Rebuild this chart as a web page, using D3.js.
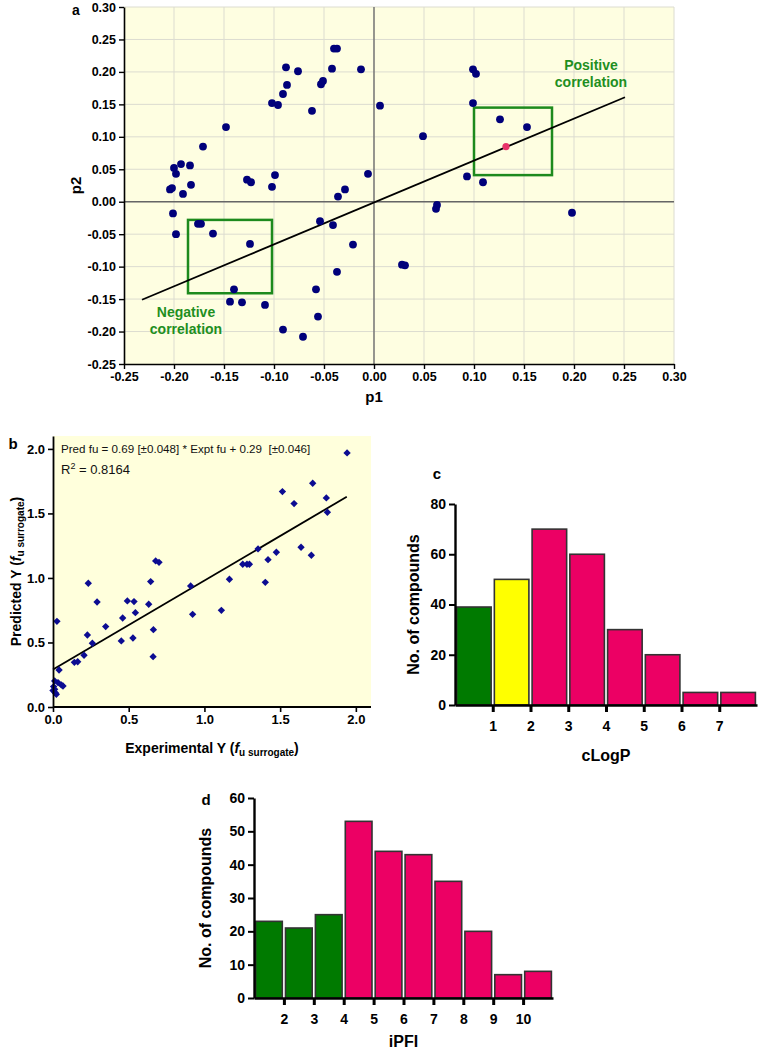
<!DOCTYPE html>
<html><head><meta charset="utf-8">
<script src="https://cdn.jsdelivr.net/npm/d3@7"></script>
<style>
body{margin:0;background:#fff;}
svg{display:block;}
text{font-family:"Liberation Sans",Arial,Helvetica,sans-serif;}
</style>
</head><body>
<svg id="fig" width="760" height="1050"></svg>
<script>
// ---------------- DATA ----------------
// Panel a: PCA scores
const pcaP1 = [-0.040,-0.037,-0.088,-0.076,-0.042,-0.013,-0.087,-0.091,-0.053,-0.051,
  -0.102,-0.096,-0.062,0.006,-0.148,-0.171,-0.193,-0.200,-0.198,-0.184,
  -0.204,-0.202,-0.183,-0.191,-0.127,-0.123,-0.102,-0.099,-0.006,-0.036,
  -0.029,-0.201,-0.198,-0.176,-0.173,-0.161,-0.124,-0.140,-0.144,-0.132,
  -0.109,-0.091,-0.071,-0.058,-0.056,-0.054,-0.041,-0.021,-0.037,0.099,
  0.102,0.099,0.049,0.126,0.153,0.093,0.109,0.063,0.062,0.198,0.028,0.031];
const pcaP2 = [0.236,0.236,0.207,0.201,0.205,0.204,0.180,0.166,0.181,0.186,
  0.152,0.149,0.140,0.148,0.115,0.085,0.058,0.052,0.043,0.056,
  0.019,0.021,0.026,0.012,0.034,0.030,0.023,0.041,0.043,0.008,
  0.019,-0.018,-0.050,-0.034,-0.034,-0.049,-0.065,-0.135,-0.154,-0.155,
  -0.159,-0.197,-0.208,-0.135,-0.177,-0.030,-0.036,-0.066,-0.108,0.204,
  0.197,0.152,0.101,0.127,0.115,0.039,0.030,-0.005,-0.011,-0.017,-0.097,-0.098];
const highlightP1 = [0.132];
const highlightP2 = [0.085];
const pcaFitP1 = [-0.232, 0.251];
const pcaFitP2 = [-0.151, 0.161];
const pcaTicks = [-0.25,-0.20,-0.15,-0.10,-0.05,0.00,0.05,0.10,0.15,0.20,0.25,0.30];
const boxNames = ["Negative", "Positive"];
const boxP1 = [[-0.186,-0.102],[0.100,0.178]];
const boxP2 = [[-0.141,-0.028],[0.041,0.145]];

// Panel b: experimental vs predicted
const exptY = [1.942,1.515,1.715,1.592,1.805,1.812,1.354,1.638,1.706,1.475,
  1.420,1.402,1.253,1.281,1.297,1.165,0.909,0.922,1.112,0.678,
  0.700,0.645,0.632,0.233,0.291,0.491,0.535,0.544,0.460,0.026,
  0.348,0.227,0.260,0.451,0.528,0.663,0.661,0.205,0.141,0.163,
  0.040,0.011,0.033,0.055,0.066,0.004,0.011,0.000,0.022,0.015];
const predY = [1.969,1.669,1.734,1.576,1.620,1.509,1.225,1.238,1.176,1.199,
  1.142,0.966,1.106,1.106,1.106,0.990,0.938,0.718,0.749,1.132,
  1.121,0.972,0.796,0.959,0.814,0.822,0.817,0.731,0.690,0.664,
  0.623,0.558,0.494,0.512,0.535,0.599,0.390,0.401,0.346,0.351,
  0.287,0.202,0.189,0.171,0.163,0.158,0.137,0.127,0.098,0.111];
const fitExpt = [0.0, 1.94];
const fitPred = [0.29, 1.629];
const bTicks = [0.0,0.5,1.0,1.5,2.0];

// Panel c: cLogP histogram
const cLogPBinStart = [0,1,2,3,4,5,6,7];
const cLogPCounts = [39,50,70,60,30,20,5,5];
const cLogPClass = ["g","y","p","p","p","p","p","p"];
const cLogPTicks = [1,2,3,4,5,6,7];
const cCountTicks = [0,20,40,60,80];

// Panel d: iPFI histogram
const iPFIBinStart = [1,2,3,4,5,6,7,8,9,10];
const iPFICounts = [23,21,25,53,44,43,35,20,7,8];
const iPFIClass = ["g","g","g","p","p","p","p","p","p","p"];
const iPFITicks = [2,3,4,5,6,7,8,9,10];
const dCountTicks = [0,10,20,30,40,50,60];

const classColor = {g:"#007a00", y:"#ffff00", p:"#ec0064"};

// ---------------- DRAW ----------------
const svg = d3.select("#fig");
const BOLD = "bold";
const fmt2 = d => d.toFixed(2);
const fmt1 = d => d.toFixed(1);

function styleAxis(g, sw, tickW, fs) {
  g.selectAll("path.domain").attr("stroke","#000").attr("stroke-width",sw);
  g.selectAll(".tick line").attr("stroke","#000").attr("stroke-width",tickW);
  g.selectAll(".tick text").attr("fill","#000").attr("font-size",fs).attr("font-weight",BOLD)
    .attr("font-family","'Liberation Sans',Arial,sans-serif");
}

// ===== Panel a =====
(function(){
  const x = d3.scaleLinear([-0.25,0.30],[124,674]);
  const y = d3.scaleLinear([-0.25,0.30],[364,7]);
  const g = svg.append("g");
  g.append("rect").attr("x",x(-0.25)).attr("y",y(0.30))
    .attr("width",x(0.30)-x(-0.25)).attr("height",y(-0.25)-y(0.30)).attr("fill","#fefee1");
  // grid
  g.selectAll("line.gx").data(pcaTicks.slice(1)).join("line")
    .attr("x1",d=>x(d)).attr("x2",d=>x(d)).attr("y1",y(0.30)).attr("y2",y(-0.25))
    .attr("stroke","#dcdcd0").attr("stroke-width",1);
  g.selectAll("line.gy").data(pcaTicks.slice(1)).join("line")
    .attr("y1",d=>y(d)).attr("y2",d=>y(d)).attr("x1",x(-0.25)).attr("x2",x(0.30))
    .attr("stroke","#dcdcd0").attr("stroke-width",1);
  // zero lines
  g.append("line").attr("x1",x(0)).attr("x2",x(0)).attr("y1",y(0.30)).attr("y2",y(-0.25))
    .attr("stroke","#666").attr("stroke-width",1.3);
  g.append("line").attr("y1",y(0)).attr("y2",y(0)).attr("x1",x(-0.25)).attr("x2",x(0.30))
    .attr("stroke","#666").attr("stroke-width",1.3);
  // boxes
  boxNames.forEach((n,i)=>{
    g.append("rect").attr("x",x(boxP1[i][0])).attr("y",y(boxP2[i][1]))
      .attr("width",x(boxP1[i][1])-x(boxP1[i][0])).attr("height",y(boxP2[i][0])-y(boxP2[i][1]))
      .attr("fill","none").attr("stroke","#1d8a1d").attr("stroke-width",2.5);
  });
  // fit line
  g.append("line").attr("x1",x(pcaFitP1[0])).attr("y1",y(pcaFitP2[0]))
    .attr("x2",x(pcaFitP1[1])).attr("y2",y(pcaFitP2[1])).attr("stroke","#000").attr("stroke-width",1.8);
  // points
  g.selectAll("circle.pt").data(pcaP1.map((v,i)=>[v,pcaP2[i]])).join("circle")
    .attr("cx",d=>x(d[0])).attr("cy",d=>y(d[1])).attr("r",3.9).attr("fill","#00007a");
  g.selectAll("circle.hl").data(highlightP1.map((v,i)=>[v,highlightP2[i]])).join("circle")
    .attr("cx",d=>x(d[0])).attr("cy",d=>y(d[1])).attr("r",3.6).attr("fill","#e8336a");
  // labels in plot
  const lab = [["Negative","correlation",-0.188,-0.178],["Positive","correlation",0.217,0.203]];
  lab.forEach(l=>{
    const t = g.append("text").attr("x",x(l[2])).attr("y",y(l[3])).attr("text-anchor","middle")
      .attr("fill","#1f8f1f").attr("font-size",14).attr("font-weight",BOLD);
    t.append("tspan").attr("x",x(l[2])).attr("dy",0).text(l[0]);
    t.append("tspan").attr("x",x(l[2])).attr("dy",17).text(l[1]);
  });
  // axes
  const ax = g.append("g").attr("transform",`translate(0,${y(-0.25)})`)
    .call(d3.axisBottom(x).tickValues(pcaTicks).tickFormat(fmt2).tickSize(5).tickSizeOuter(0).tickPadding(3));
  styleAxis(ax,1.6,1.4,12.5);
  const ay = g.append("g").attr("transform",`translate(${x(-0.25)},0)`)
    .call(d3.axisLeft(y).tickValues(pcaTicks).tickFormat(fmt2).tickSize(5).tickSizeOuter(0).tickPadding(3));
  styleAxis(ay,1.6,1.4,12.5);
  g.append("text").attr("x",x(0)).attr("y",402).attr("text-anchor","middle")
    .attr("font-size",15).attr("font-weight",BOLD).text("p1");
  g.append("text").attr("transform",`translate(81,${(y(0.30)+y(-0.25))/2}) rotate(-90)`)
    .attr("text-anchor","middle").attr("font-size",15).attr("font-weight",BOLD).text("p2");
  g.append("text").attr("x",76).attr("y",15).attr("text-anchor","middle")
    .attr("font-size",14).attr("font-weight",BOLD).text("a");
})();

// ===== Panel b =====
(function(){
  const x = d3.scaleLinear([0,2.1],[53,371]);
  const y = d3.scaleLinear([0,2.1],[707,436]);
  const g = svg.append("g");
  g.append("rect").attr("x",x(0)).attr("y",y(2.1)).attr("width",x(2.1)-x(0)).attr("height",y(0)-y(2.1))
    .attr("fill","#ffffdc");
  g.append("line").attr("x1",x(fitExpt[0])).attr("y1",y(fitPred[0])).attr("x2",x(fitExpt[1])).attr("y2",y(fitPred[1]))
    .attr("stroke","#000").attr("stroke-width",1.8);
  g.selectAll("path.pt").data(exptY.map((v,i)=>[v,predY[i]])).join("path")
    .attr("d",d3.symbol(d3.symbolSquare,27))
    .attr("transform",d=>`translate(${x(d[0])},${y(d[1])}) rotate(45)`)
    .attr("fill","#0c0c92");
  const ax = g.append("g").attr("transform",`translate(0,${y(0)})`)
    .call(d3.axisBottom(x).tickValues(bTicks).tickFormat(fmt1).tickSize(5).tickSizeOuter(0).tickPadding(3));
  styleAxis(ax,1.8,1.6,13);
  ax.select("path.domain").attr("d",`M${x(0)},0H${x(2.1)}`);
  const ay = g.append("g").attr("transform",`translate(${x(0)},0)`)
    .call(d3.axisLeft(y).tickValues(bTicks).tickFormat(fmt1).tickSize(5).tickSizeOuter(0).tickPadding(3));
  styleAxis(ay,1.8,1.6,13);
  g.append("text").attr("x",61).attr("y",453).attr("font-size",11.6).attr("fill","#111")
    .text("Pred fu = 0.69 [\u00b10.048] * Expt fu + 0.29 \u00a0[\u00b10.046]");
  const r2 = g.append("text").attr("x",61).attr("y",474).attr("font-size",13).attr("fill","#111");
  r2.append("tspan").text("R");
  r2.append("tspan").attr("font-size",9).attr("dy",-5).text("2");
  r2.append("tspan").attr("dy",5).text(" = 0.8164");
  // axis titles
  const xt = g.append("text").attr("x",(x(0)+x(2.1))/2).attr("y",753).attr("text-anchor","middle")
    .attr("font-size",14).attr("font-weight",BOLD);
  xt.append("tspan").text("Experimental Y (");
  xt.append("tspan").attr("font-style","italic").text("f");
  xt.append("tspan").attr("font-size",10).attr("dy",3).text("u surrogate");
  xt.append("tspan").attr("dy",-3).text(")");
  const yt = g.append("text").attr("transform",`translate(21,${(y(0)+y(2.1))/2}) rotate(-90)`)
    .attr("text-anchor","middle").attr("font-size",14).attr("font-weight",BOLD);
  yt.append("tspan").text("Predicted Y (");
  yt.append("tspan").attr("font-style","italic").text("f");
  yt.append("tspan").attr("font-size",10).attr("dy",3).text("u surrogate");
  yt.append("tspan").attr("dy",-3).text(")");
  g.append("text").attr("x",13).attr("y",449).attr("text-anchor","middle")
    .attr("font-size",15).attr("font-weight",BOLD).text("b");
})();

// ===== Histogram helper =====
function histogram(opt){
  const x = d3.scaleLinear(opt.xDom, opt.xRange);
  const y = d3.scaleLinear(opt.yDom, opt.yRange);
  const g = svg.append("g");
  const step = x(opt.xDom[0]+1)-x(opt.xDom[0]);
  g.selectAll("rect.bar").data(opt.starts.map((s,i)=>({s, c:opt.counts[i], k:opt.cls[i]}))).join("rect")
    .attr("x",d=>x(d.s)+1.6).attr("width",step-3.2)
    .attr("y",d=>y(d.c)).attr("height",d=>y(0)-y(d.c))
    .attr("fill",d=>classColor[d.k]).attr("stroke","#333").attr("stroke-width",1.6);
  const ax = g.append("g").attr("transform",`translate(0,${y(0)})`)
    .call(d3.axisBottom(x).tickValues(opt.xTicks).tickFormat(d3.format("d")).tickSize(7).tickSizeOuter(0).tickPadding(9));
  styleAxis(ax,2.4,3,14);
  const ay = g.append("g").attr("transform",`translate(${x(opt.xDom[0])},0)`)
    .call(d3.axisLeft(y).tickValues(opt.yTicks).tickFormat(d3.format("d")).tickSize(6).tickSizeOuter(0).tickPadding(3));
  styleAxis(ay,2.4,2,14);
  g.append("text").attr("x",(opt.xRange[0]+opt.xRange[1])/2).attr("y",opt.xTitleY).attr("text-anchor","middle")
    .attr("font-size",16).attr("font-weight",BOLD).text(opt.xTitle);
  g.append("text").attr("transform",`translate(${opt.yTitleX},${(opt.yRange[0]+opt.yRange[1])/2}) rotate(-90)`)
    .attr("text-anchor","middle").attr("font-size",16).attr("font-weight",BOLD).text("No. of compounds");
  g.append("text").attr("x",opt.lab[0]).attr("y",opt.lab[1]).attr("text-anchor","middle")
    .attr("font-size",15).attr("font-weight",BOLD).text(opt.lab[2]);
}

histogram({xDom:[0,8], xRange:[455,757], yDom:[0,80], yRange:[705,504],
  starts:cLogPBinStart, counts:cLogPCounts, cls:cLogPClass, xTicks:cLogPTicks, yTicks:cCountTicks,
  xTitle:"cLogP", xTitleY:761, yTitleX:419, lab:[437,479,"c"]});

histogram({xDom:[1,11], xRange:[254,553], yDom:[0,60], yRange:[998,798],
  starts:iPFIBinStart, counts:iPFICounts, cls:iPFIClass, xTicks:iPFITicks, yTicks:dCountTicks,
  xTitle:"iPFI", xTitleY:1047, yTitleX:211, lab:[206,805,"d"]});
</script>
</body></html>
